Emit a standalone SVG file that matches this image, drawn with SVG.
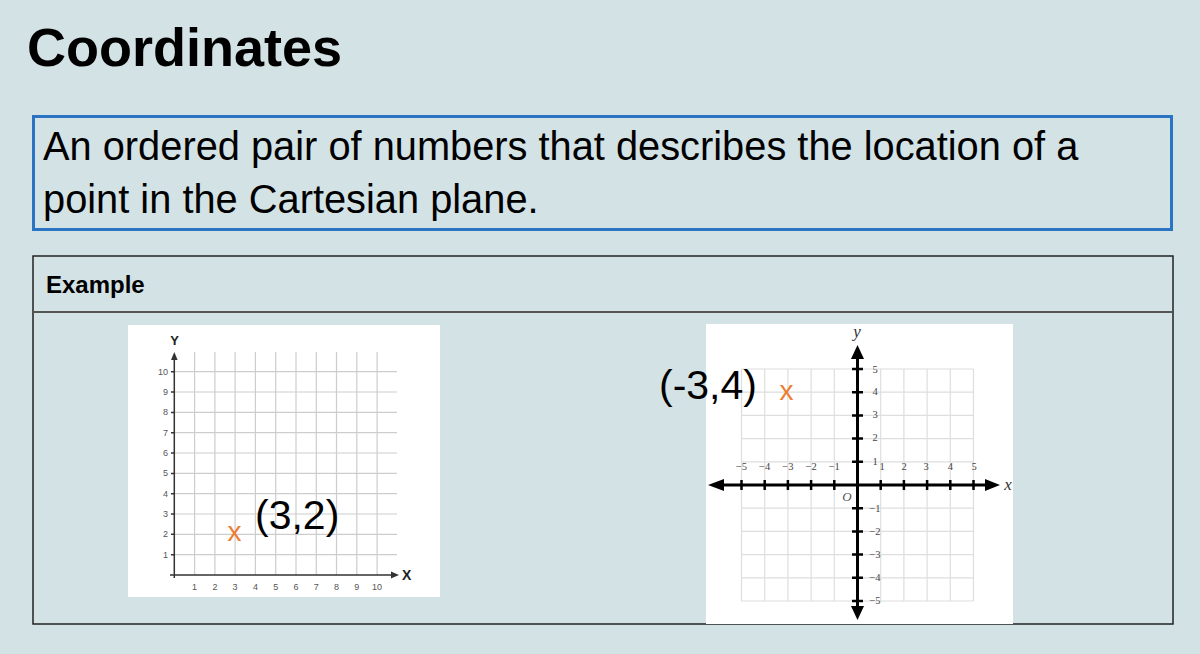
<svg xmlns="http://www.w3.org/2000/svg" width="1200" height="654" viewBox="0 0 1200 654">
<style>
.sans{font-family:"Liberation Sans",Arial,sans-serif}
.serif{font-family:"Liberation Serif","Times New Roman",serif}
.g1{stroke:#cdcdcd;stroke-width:1.2;fill:none}
.g2{stroke:#dedede;stroke-width:1.2;fill:none}
.lt1{font-size:9px;fill:#555}
.lt2{font-size:10.5px;fill:#444}
.mark{font-size:28px;fill:#ed7d31}
.pt{font-size:41px;fill:#000}
</style>
<rect x="0" y="0" width="1200" height="654" fill="#d3e2e5"/>
<g id="title"><text x="27" y="66" class="sans" font-size="54" font-weight="bold" fill="#000">Coordinates</text></g>
<g id="definition">
<rect x="33.5" y="116.5" width="1138" height="113" fill="none" stroke="#2b73c3" stroke-width="3"/>
<text x="43" y="159.5" class="sans" font-size="39.8" fill="#000">An ordered pair of numbers that describes the location of a</text>
<text x="43" y="212.5" class="sans" font-size="39.8" fill="#000">point in the Cartesian plane.</text>
</g>
<g id="example">
<rect x="33" y="256" width="1140" height="368" fill="none" stroke="#222" stroke-width="1.5"/>
<line x1="33" y1="312" x2="1173" y2="312" stroke="#555" stroke-width="2"/>
<text x="46" y="293" class="sans" font-size="24" font-weight="bold" fill="#000">Example</text>
</g>
<g id="graph-left">
<rect x="128" y="325" width="312" height="272" fill="#fff"/>
<g class="g1">
<path d="M194.6 352V575M214.9 352V575M235.1 352V575M255.4 352V575M275.7 352V575M296 352V575M316.3 352V575M336.5 352V575M356.8 352V575M377.1 352V575"/>
<path d="M174 554.7H397M174 534.3H397M174 514H397M174 493.7H397M174 473.4H397M174 453H397M174 432.7H397M174 412.4H397M174 392H397M174 371.7H397"/>
</g>
<g stroke="#333" stroke-width="1.5" fill="none">
<path d="M174.3 578V357M170 575H395"/>
<path d="M171 554.7H174.3M171 534.3H174.3M171 514H174.3M171 493.7H174.3M171 473.4H174.3M171 453H174.3M171 432.7H174.3M171 412.4H174.3M171 392H174.3M171 371.7H174.3"/>
</g>
<polygon points="174.3,352 171,360 177.6,360" fill="#333"/>
<polygon points="399,575 391,571.5 391,578.5" fill="#333"/>
<text x="174.5" y="345" class="sans" font-size="13" font-weight="bold" text-anchor="middle" fill="#222">Y</text>
<text x="402" y="580" class="sans" font-size="14" font-weight="bold" fill="#222">X</text>
<g class="sans lt1" text-anchor="end">
<text x="168" y="557.7">1</text><text x="168" y="537.3">2</text><text x="168" y="517">3</text><text x="168" y="496.7">4</text><text x="168" y="476.4">5</text><text x="168" y="456">6</text><text x="168" y="435.7">7</text><text x="168" y="415.4">8</text><text x="168" y="395">9</text><text x="168" y="374.7">10</text>
</g>
<g class="sans lt1" text-anchor="middle">
<text x="194.6" y="590">1</text><text x="214.9" y="590">2</text><text x="235.1" y="590">3</text><text x="255.4" y="590">4</text><text x="275.7" y="590">5</text><text x="296" y="590">6</text><text x="316.3" y="590">7</text><text x="336.5" y="590">8</text><text x="356.8" y="590">9</text><text x="377.1" y="590">10</text>
</g>
<text x="234.5" y="541" class="sans mark" text-anchor="middle">x</text>
<text x="255" y="529" class="sans pt">(3,2)</text>
</g>
<g id="graph-right">
<rect x="706" y="324" width="307" height="300" fill="#fff"/>
<g class="g2">
<path d="M741.5 369V601M764.7 369V601M787.9 369V601M811.1 369V601M834.3 369V601M880.7 369V601M903.9 369V601M927.1 369V601M950.3 369V601M973.5 369V601"/>
<path d="M741.5 369H973.5M741.5 392.2H973.5M741.5 415.4H973.5M741.5 438.6H973.5M741.5 461.8H973.5M741.5 508.2H973.5M741.5 531.4H973.5M741.5 554.6H973.5M741.5 577.8H973.5M741.5 601H973.5"/>
</g>
<g stroke="#000" fill="none">
<path d="M857.5 355V610M718 485H990" stroke-width="3"/>
<path d="M741.5 480V490M764.7 480V490M787.9 480V490M811.1 480V490M834.3 480V490M880.7 480V490M903.9 480V490M927.1 480V490M950.3 480V490M973.5 480V490" stroke-width="2.5"/>
<path d="M852 369H863M852 392.2H863M852 415.4H863M852 438.6H863M852 461.8H863M852 508.2H863M852 531.4H863M852 554.6H863M852 577.8H863M852 601H863" stroke-width="2.5"/>
</g>
<polygon points="857.5,345 851,359 864,359" fill="#000"/>
<polygon points="857.5,620 851,606 864,606" fill="#000"/>
<polygon points="708,485 724,479 724,491" fill="#000"/>
<polygon points="1000,485 985,479 985,491" fill="#000"/>
<g class="serif lt2" text-anchor="middle">
<text x="741.5" y="470">−5</text><text x="764.7" y="470">−4</text><text x="787.9" y="470">−3</text><text x="811.1" y="470">−2</text><text x="834.3" y="470">−1</text>
<text x="882" y="470">1</text><text x="904" y="470">2</text><text x="926" y="470">3</text><text x="950.3" y="470">4</text><text x="974" y="470">5</text>
<text x="875" y="372.5">5</text><text x="875" y="395">4</text><text x="875" y="418">3</text><text x="875" y="441">2</text><text x="875" y="465">1</text>
<text x="875" y="512">−1</text><text x="875" y="535">−2</text><text x="875" y="558">−3</text><text x="875" y="581">−4</text><text x="875" y="604">−5</text>
</g>
<text x="847" y="501" class="serif" font-size="13" font-style="italic" fill="#555" text-anchor="middle">O</text>
<text x="857" y="337" class="serif" font-size="17" font-style="italic" fill="#333" text-anchor="middle">y</text>
<text x="1008" y="490" class="serif" font-size="17" font-style="italic" fill="#333" text-anchor="middle">x</text>
<text x="786.5" y="400" class="sans mark" text-anchor="middle">x</text>
<text x="659" y="398.5" class="sans pt">(-3,4)</text>
</g>
</svg>
